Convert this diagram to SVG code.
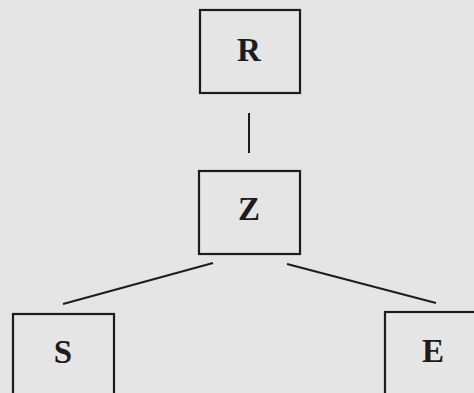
<svg xmlns="http://www.w3.org/2000/svg" width="474" height="393" viewBox="0 0 474 393">
<style>
.box{fill:none;stroke:#1c1c1c;stroke-width:2.2}
.lbl{font-family:"Liberation Serif","DejaVu Serif",serif;font-size:33px;font-weight:bold;fill:#1c1c1c;text-anchor:middle}
.edge{stroke:#1c1c1c;stroke-width:2;fill:none}
</style>
<rect x="0" y="0" width="474" height="393" fill="#e5e5e5"/>
<g id="connectors">
<line class="edge" x1="249" y1="113" x2="249" y2="153"/>
<line class="edge" x1="213" y1="263" x2="63" y2="304"/>
<line class="edge" x1="287" y1="264" x2="436" y2="303"/>
</g>
<g id="node-R"><rect class="box" x="200" y="10" width="100" height="83"/><text class="lbl" x="249" y="61">R</text></g>
<g id="node-Z"><rect class="box" x="199" y="171" width="101" height="83"/><text class="lbl" x="249" y="220">Z</text></g>
<g id="node-S"><rect class="box" x="13" y="314" width="101" height="90"/><text class="lbl" x="63" y="363">S</text></g>
<g id="node-E"><rect class="box" x="385" y="312" width="101" height="90"/><text class="lbl" x="433" y="362">E</text></g>
</svg>
